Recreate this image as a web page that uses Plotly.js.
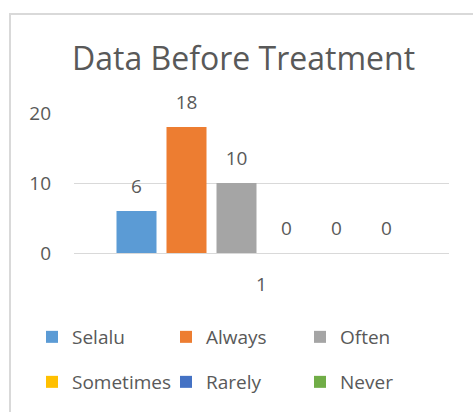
<!DOCTYPE html>
<html><head><meta charset="utf-8">
<script src="https://cdn.plot.ly/plotly-3.0.1.min.js"></script>
<style>html,body{margin:0;padding:0;background:#fff}#chart{width:473px;height:412px}</style>
</head><body><div id="chart"></div>
<script>
const categories = ["1"];
const seriesNames = ["Selalu", "Always", "Often", "Sometimes", "Rarely", "Never"];
const seriesValues = [6, 18, 10, 0, 0, 0];
const seriesColors = ["#5B9BD5", "#ED7D31", "#A5A5A5", "#FFC000", "#4472C4", "#70AD47"];
const yTicks = [0, 10, 20];

const FONT = "Open Sans, Liberation Sans, sans-serif";
const TXT = "#595959";
const legendIds = ["legend", "legend2", "legend3", "legend4", "legend5", "legend6"];

const bars = seriesNames.map((name, i) => ({
  type: "bar",
  name: name,
  x: categories,
  y: [seriesValues[i]],
  marker: {color: seriesColors[i]},
  legend: legendIds[i],
  hoverinfo: "skip"
}));

// data labels, grouped the same way as the bars
const labels = seriesNames.map((name, i) => ({
  type: "scatter",
  mode: "markers+text",
  name: name + " label",
  x: categories,
  y: [seriesValues[i]],
  text: [String(seriesValues[i])],
  textposition: "top center",
  textfont: {family: FONT, size: 19, color: TXT},
  marker: {size: 20, opacity: 0},
  cliponaxis: false,
  showlegend: false,
  hoverinfo: "skip"
}));

const colX = [32, 166, 300];
const rowY = [337, 382];
const legends = {};
legendIds.forEach((id, i) => {
  legends[id] = {
    orientation: "h", xref: "container", yref: "container",
    x: colX[i % 3] / 473, xanchor: "left",
    y: 1 - rowY[Math.floor(i / 3)] / 412, yanchor: "middle",
    itemclick: false, font: {family: FONT, size: 19, color: TXT},
    bgcolor: "rgba(0,0,0,0)"
  };
});

const layout = Object.assign({
  width: 473, height: 412,
  margin: {l: 74, r: 24, t: 113, b: 159, autoexpand: false},
  paper_bgcolor: "#fff", plot_bgcolor: "#fff",
  font: {family: FONT, color: TXT},
  title: {text: "Data Before Treatment", font: {family: FONT, size: 32, color: TXT},
          xref: "container", x: 0.515, xanchor: "center", yref: "container", y: 0.857, yanchor: "middle"},
  barmode: "group", bargap: 0.2, bargroupgap: 0.2,
  scattermode: "group", scattergap: 0.2,
  xaxis: {type: "category", showgrid: false, showline: false, zeroline: false, ticks: "",
          tickfont: {family: FONT, size: 19, color: TXT}, ticklabelstandoff: 18},
  yaxis: {range: [0, 20], tickvals: yTicks, showgrid: true, gridcolor: "#D9D9D9", gridwidth: 1,
          zeroline: true, zerolinecolor: "#D9D9D9", zerolinewidth: 1, showline: false, ticks: "",
          tickfont: {family: FONT, size: 19, color: TXT}, ticklabelstandoff: 22},
  showlegend: true,
  shapes: [
    {type: "path", xref: "paper", yref: "paper",
     path: "M -0.1707,-1.3 L -0.1707,1.7071 L 1.2,1.7071",
     line: {color: "#D9D9D9", width: 2}}
  ]
}, legends);

Plotly.newPlot("chart", bars.concat(labels), layout, {displayModeBar: false, staticPlot: true});
</script></body></html>
